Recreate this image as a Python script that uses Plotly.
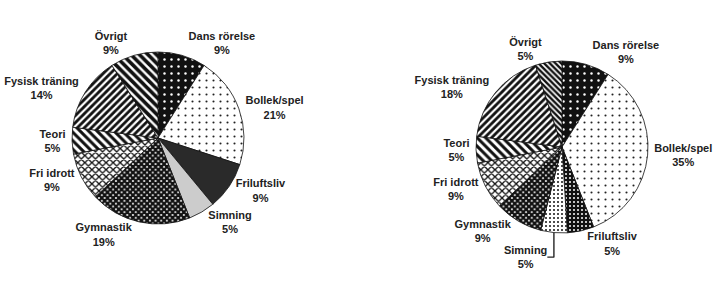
import plotly.graph_objects as go

categories = ["Dans rörelse", "Bollek/spel", "Friluftsliv", "Simning", "Gymnastik",
              "Fri idrott", "Teori", "Fysisk träning", "Övrigt"]
values_left = [9, 21, 9, 5, 19, 9, 5, 14, 9]
values_right = [9, 35, 5, 5, 9, 9, 5, 18, 5]

W, H = 721, 281
R = 86

def domain(cx, cy, r=R):
    return dict(x=[(cx - r) / W, (cx + r) / W], y=[(H - cy - r) / H, (H - cy + r) / H])

pat_left = dict(
    shape=[".", ".", "", "", "x", "x", "\\", "/", "\\"],
    bgcolor=["#111111", "white", "#2a2a2a", "#cccccc", "#ffffff", "white", "white", "white", "white"],
    fgcolor=["white", "#222222", "#2a2a2a", "#cccccc", "#111111", "#111111", "#111111", "#111111", "#111111"],
    size=[7, 7, 6, 6, 4, 5, 6, 5, 6],
    solidity=[0.1, 0.07, 0.3, 0.3, 0.8, 0.45, 0.5, 0.55, 0.6],
    fillmode="replace",
)
pat_right = dict(
    shape=[".", ".", ".", ".", "x", "x", "\\", "/", "\\"],
    bgcolor=["#111111", "white", "#111111", "white", "#ffffff", "white", "white", "white", "white"],
    fgcolor=["white", "#222222", "white", "#111111", "#111111", "#111111", "#111111", "#111111", "#111111"],
    size=[7, 7, 4, 4, 4, 5, 6, 5, 4],
    solidity=[0.1, 0.07, 0.2, 0.2, 0.8, 0.45, 0.5, 0.55, 0.6],
    fillmode="replace",
)
base_left = ["#111111", "white", "#2a2a2a", "#cccccc", "#555555", "#bbbbbb", "white", "white", "white"]
base_right = ["#111111", "white", "#111111", "white", "#555555", "#bbbbbb", "white", "white", "white"]

lab_font = dict(family="Liberation Sans", size=11, color="#222222", weight="bold")

fig = go.Figure()
for vals, pat, base, (cx, cy) in [(values_left, pat_left, base_left, (158, 138)),
                                  (values_right, pat_right, base_right, (562, 147))]:
    fig.add_trace(go.Pie(
        labels=categories, values=vals, sort=False, direction="clockwise", rotation=0,
        domain=domain(cx, cy),
        marker=dict(colors=base, pattern=pat, line=dict(color="#111111", width=0.8)),
        textposition="outside", texttemplate="%{label}<br>%{percent:.0%}",
        outsidetextfont=lab_font, textfont=lab_font,
        hoverinfo="label+percent", showlegend=False,
    ))

fig.update_layout(width=W, height=H, margin=dict(l=0, r=0, t=0, b=0),
                  paper_bgcolor="white", plot_bgcolor="white",
                  font=dict(family="Liberation Sans", size=11, color="#222222"))
fig.write_html("out.html")
